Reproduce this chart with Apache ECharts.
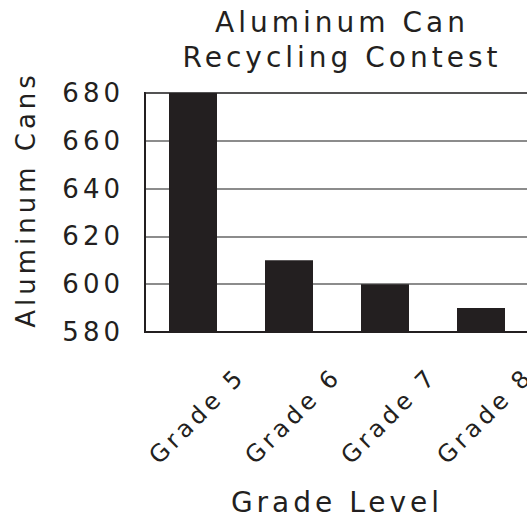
<!DOCTYPE html>
<html>
<head>
<meta charset="utf-8">
<script src="https://cdn.jsdelivr.net/npm/echarts@6/dist/echarts.min.js"></script>
<style>
  html, body { margin: 0; padding: 0; background: #fff; }
  #chart { width: 527px; height: 517px; letter-spacing: 4px; }
</style>
</head>
<body>
<div id="chart"></div>
<script>
// Cans collected per grade
const grades = ['Grade 5', 'Grade 6', 'Grade 7', 'Grade 8'];
const cans = [680, 610, 600, 590];
const yTicks = { min: 580, max: 680, step: 20 };

const ink = '#231f20';
const font = 'DejaVu Sans';

const chart = echarts.init(document.getElementById('chart'), null, { renderer: 'svg' });
chart.setOption({
  animation: false,
  backgroundColor: '#fff',
  title: {
    text: 'Aluminum Can\nRecycling Contest',
    left: 337,
    top: 0,
    textAlign: 'center',
    textStyle: { fontFamily: font, fontSize: 28, fontWeight: 'normal', color: ink, lineHeight: 35 }
  },
  grid: {
    left: 145, right: -2, top: 93, bottom: 185,
    outerBoundsMode: 'none',
    containLabel: false,
    show: true, borderColor: ink, borderWidth: 2
  },
  xAxis: {
    type: 'category',
    data: grades,
    name: 'Grade Level',
    nameLocation: 'middle',
    nameGap: 156,
    nameTextStyle: { fontFamily: font, fontSize: 28, color: ink },
    axisLine: { show: true, lineStyle: { color: ink, width: 2 } },
    axisTick: { show: false },
    axisLabel: {
      rotate: 45,
      margin: -8,
      verticalAlign: 'top',
      padding: [56, 0, 0, 0],
      fontFamily: font,
      fontSize: 24,
      color: ink
    }
  },
  yAxis: {
    type: 'value',
    min: yTicks.min,
    max: yTicks.max,
    interval: yTicks.step,
    name: 'Aluminum Cans',
    nameLocation: 'middle',
    nameGap: 106,
    nameTextStyle: { fontFamily: font, fontSize: 26, color: ink, padding: [0, 0, 0, 26] },
    axisLine: { show: true, lineStyle: { color: ink, width: 2 } },
    axisTick: { show: false },
    axisLabel: { fontFamily: font, fontSize: 26, color: ink, margin: 21 },
    splitLine: { show: true, lineStyle: { color: '#666', width: 1.5 } }
  },
  series: [{
    type: 'bar',
    data: cans,
    barWidth: '50%',
    itemStyle: { color: ink },
    silent: true
  }]
});
</script>
</body>
</html>
